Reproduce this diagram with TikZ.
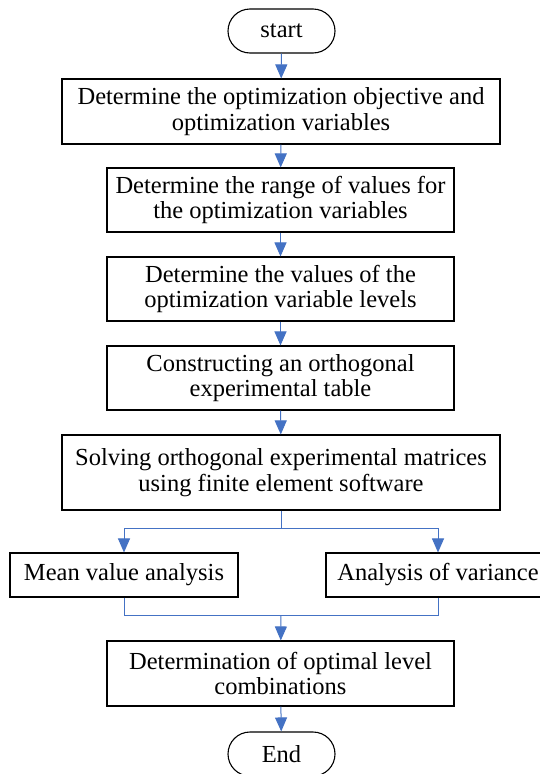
\documentclass[tikz,border=0pt]{standalone}
\usepackage{fontspec}
\setmainfont{Liberation Serif}
\usetikzlibrary{arrows.meta}
\definecolor{flowblue}{HTML}{4472C4}
\begin{document}
\begin{tikzpicture}[x=1pt,y=-1pt,
  box/.style={draw=black,line width=1.1pt,fill=white,inner sep=0pt,align=center,
    font=\fontsize{24.5}{25.5}\selectfont},
  term/.style={box,rounded corners=22pt,minimum width=107pt,minimum height=44pt},
  link/.style={draw=flowblue,line width=1pt},
  arr/.style={link,-{Triangle[width=12pt,length=14pt]}}]
\clip (0,0) rectangle (540,774);
\fill[white] (0,0) rectangle (540,774);
\node[term] (start) at (281.5,31) {start};
\node[box,minimum width=438pt,minimum height=65pt] (b1) at (281,111.5)
  {Determine the optimization objective and\\optimization variables};
\node[box,minimum width=347pt,minimum height=64pt] (b2) at (280.5,200)
  {Determine the range of values for\\the optimization variables};
\node[box,minimum width=347pt,minimum height=64pt] (b3) at (280.5,289)
  {Determine the values of the\\optimization variable levels};
\node[box,minimum width=347pt,minimum height=64pt] (b4) at (280.5,378)
  {Constructing an orthogonal\\experimental table};
\node[box,minimum width=438pt,minimum height=75pt] (b5) at (281,472.5)
  {Solving orthogonal experimental matrices\\using finite element software};
\node[box,minimum width=228pt,minimum height=44pt] (mean) at (124,575)
  {Mean value analysis};
\node[box,minimum width=224pt,minimum height=44pt] (var) at (438,575)
  {Analysis of variance};
\node[box,minimum width=347pt,minimum height=65pt] (b6) at (280.5,673.5)
  {Determination of optimal level\\combinations};
\node[term] (end) at (281.5,754) {End};
\coordinate (split) at (281,528);
\coordinate (merge) at (281,615);
\draw[arr] (start) -- (b1);
\draw[arr] (b1) -- (b2);
\draw[arr] (b2) -- (b3);
\draw[arr] (b3) -- (b4);
\draw[arr] (b4) -- (b5);
\draw[link] (b5) -- (split);
\draw[arr] (split) -| (mean);
\draw[arr] (split) -| (var);
\draw[link] (mean) |- (merge);
\draw[link] (var) |- (merge);
\draw[arr] (merge) -- (b6);
\draw[arr] (b6) -- (end);
\end{tikzpicture}
\end{document}
